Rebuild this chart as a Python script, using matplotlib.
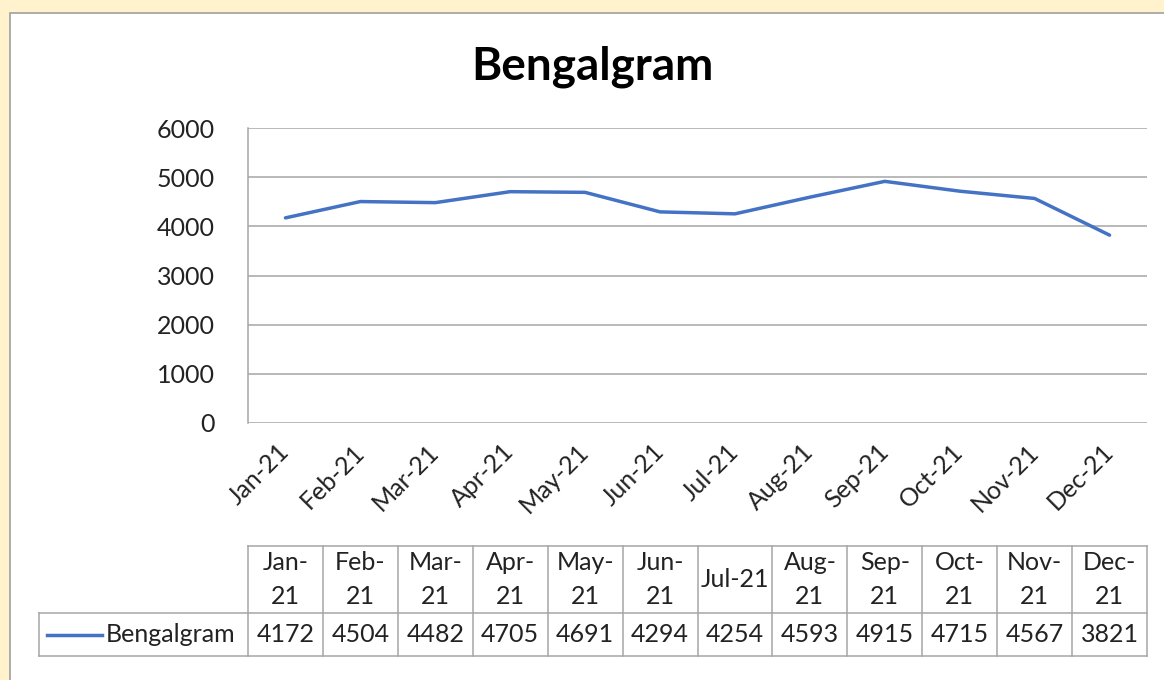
import matplotlib
matplotlib.use("Agg")
import matplotlib.pyplot as plt
from matplotlib.patches import Rectangle
from matplotlib.lines import Line2D
import matplotlib.transforms as mtransforms
import numpy as np

# data
months = ['Jan-21', 'Feb-21', 'Mar-21', 'Apr-21', 'May-21', 'Jun-21',
          'Jul-21', 'Aug-21', 'Sep-21', 'Oct-21', 'Nov-21', 'Dec-21']
bengalgram = [4172, 4504, 4482, 4705, 4691, 4294, 4254, 4593, 4915, 4715, 4567, 3821]
series_name = 'Bengalgram'
yticks = [0, 1000, 2000, 3000, 4000, 5000, 6000]

W, H = 1164, 680
plt.rcParams['font.family'] = ['Lato', 'DejaVu Sans']
blue = '#4472C4'
grey = '#A6A6A6'
txt = '#222222'
fs = 18

fig = plt.figure(figsize=(W / 100, H / 100), dpi=100)
fig.patch.set_facecolor('#FFF2CC')

def fx(p):
    return p / W

def fy(p):
    return 1 - p / H

# white chart area
fig.add_artist(Rectangle((fx(9.5), -0.1), 1.2, fy(12.5) + 0.1, transform=fig.transFigure,
                         facecolor='white', edgecolor='#A0A0A0', lw=1.2, zorder=-10))

ax = fig.add_axes([fx(248), fy(423), fx(1147 - 248), (423 - 128) / H])
ax.set_facecolor('none')
x = np.arange(len(months))
ax.plot(x, bengalgram, color=blue, lw=2.5, solid_capstyle='round', zorder=3)
ax.set_xlim(-0.5, len(months) - 0.5)
ax.set_ylim(0, 6000)
ax.set_yticks(yticks)
ax.set_yticklabels([str(v) for v in yticks], fontsize=fs, color=txt)
ax.yaxis.grid(True, color=grey, lw=1.1)
ax.set_axisbelow(True)
for s in ['top', 'right', 'bottom']:
    ax.spines[s].set_visible(False)
ax.spines['left'].set_color(grey)
ax.spines['left'].set_linewidth(1.1)
ax.tick_params(axis='y', length=0, pad=24)
ax.tick_params(axis='x', length=0, pad=18)
ax.set_xticks(x)
ax.set_xticklabels(months, rotation=45, ha='right', va='center',
                   rotation_mode='anchor', fontsize=fs, color=txt)

fig.text(fx(592), fy(67), series_name, ha='center', va='center',
         fontsize=33, fontweight='bold', color='black')

# data table under the chart
tr = mtransforms.blended_transform_factory(ax.transData, fig.transFigure)
top, mid, bot = fy(546), fy(613), fy(656)
for i in range(len(months) + 1):
    ax.add_line(Line2D([i - 0.5, i - 0.5], [top, bot], transform=tr, color=grey, lw=1.1, clip_on=False))
ax.add_line(Line2D([-0.5, len(months) - 0.5], [top, top], transform=tr, color=grey, lw=1.1, clip_on=False))
for yy in (mid, bot):
    fig.add_artist(Line2D([fx(38.5), fx(1147)], [yy, yy], color=grey, lw=1.1))
fig.add_artist(Line2D([fx(38.5), fx(38.5)], [mid, bot], color=grey, lw=1.1))

for i, m in enumerate(months):
    head = m if m == 'Jul-21' else m.replace('-', '-\n')
    ax.text(i, (top + mid) / 2, head, transform=tr, ha='center', va='center',
            fontsize=fs, linespacing=1.6, color=txt)
    ax.text(i, (mid + bot) / 2, str(bengalgram[i]), transform=tr, ha='center', va='center',
            fontsize=fs, color=txt)

fig.add_artist(Line2D([fx(47), fx(102)], [fy(635), fy(635)], color=blue, lw=2.5))
fig.text(fx(106), (mid + bot) / 2, series_name, ha='left', va='center', fontsize=fs, color=txt)

fig.savefig('out.png', dpi=100, facecolor=fig.get_facecolor())
